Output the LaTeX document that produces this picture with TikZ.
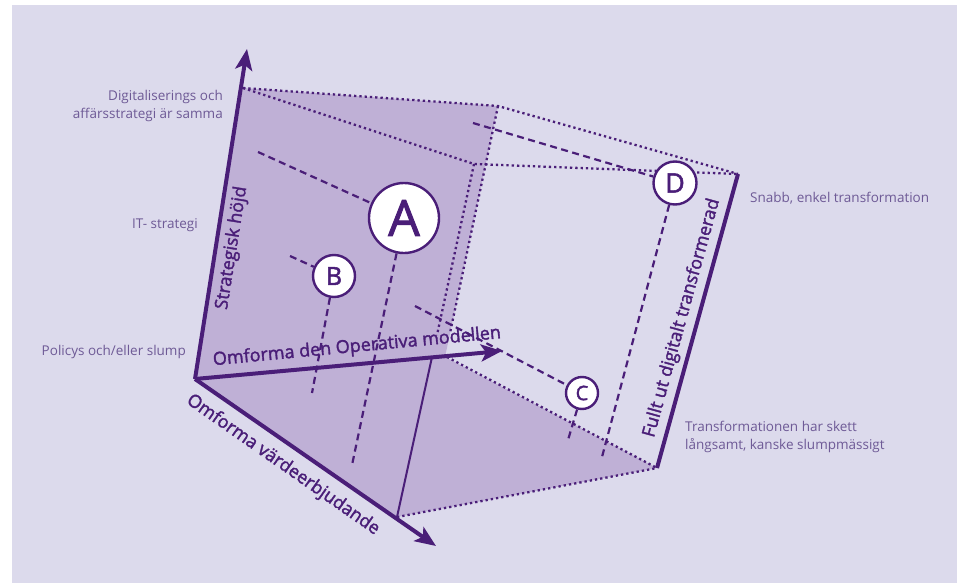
\documentclass[tikz,border=0pt]{standalone}
\usepackage{fontspec}
\setmainfont{Open Sans}
\newfontfamily\boldish[FakeBold=1.8]{Open Sans}
\usetikzlibrary{arrows.meta}
\definecolor{bglav}{RGB}{220,218,236}
\definecolor{facepurple}{RGB}{191,176,214}
\definecolor{darkpurple}{RGB}{74,30,120}
\definecolor{labelgray}{RGB}{110,90,150}
\tikzset{
  dotline/.style={draw=darkpurple, line width=2.3pt, dash pattern=on 2.3pt off 3pt},
  dashline/.style={draw=darkpurple, line width=2.2pt, dash pattern=on 7pt off 4.5pt},
  axisline/.style={draw=darkpurple, line width=4pt, -{Stealth[length=21pt,width=17pt,inset=5pt]}},
  thickline/.style={draw=darkpurple, line width=4pt},
  thinline/.style={draw=darkpurple, line width=2pt},
  letterbox/.style={circle, draw=darkpurple, line width=2.4pt, fill=white, text=darkpurple, inner sep=0pt},
  axislabel/.style={text=darkpurple, font=\boldish\fontsize{18}{20}\selectfont, inner sep=0pt},
  sidelabel/.style={text=labelgray, font=\fontsize{13.5}{18}\selectfont, inner sep=0pt}
}
\begin{document}
\begin{tikzpicture}[x=1pt,y=-1pt]
\useasboundingbox (0,0) rectangle (957,583);
\fill[white] (0,0) rectangle (957,583);
\fill[bglav] (12,5) rectangle (957,583);
% corners
\coordinate (O) at (195,379);
\coordinate (TL) at (243,88);
\coordinate (TR) at (498,106);
\coordinate (M1) at (474,164);
\coordinate (RC) at (738,174);
\coordinate (L1a) at (445,357);
\coordinate (L1e) at (450,333);
\coordinate (L2e) at (437,335);
\coordinate (L2b) at (432,357);
\coordinate (BR) at (657,468);
\coordinate (V) at (397,517);
\coordinate (L1b) at (447,357);
% shaded faces
\fill[facepurple] (O) -- (TL) -- (TR) -- (L1a) -- (BR) -- (V) -- cycle;
% dotted edges
\draw[dotline] (TL) -- (TR) -- (RC);
\draw[dotline] (TL) -- (M1) -- (RC);
\draw[dotline] (TR) -- (L1e);
\draw[dotline] (M1) -- (L2e);
\draw[dotline] (L1b) -- (BR);
\draw[dotline] (V) -- (BR);
\draw[thinline] (L2b) -- (V);
\draw[thickline] (RC) -- (BR);
% letter circles
\node[letterbox, minimum size=70pt, font=\boldish\fontsize{50}{50}\selectfont] (A) at (404,218) {A};
\node[letterbox, minimum size=42pt, font=\boldish\fontsize{25}{25}\selectfont] (B) at (334,276) {B};
\node[letterbox, minimum size=32pt, font=\boldish\fontsize{20}{20}\selectfont] (C) at (582,393) {C};
\node[letterbox, minimum size=43pt, font=\boldish\fontsize{27}{27}\selectfont] (D) at (675,183) {D};
% dashed leaders
\coordinate (a1) at (258,152);
\coordinate (a2) at (352,465);
\coordinate (b1) at (290,256);
\coordinate (b2) at (312,393);
\coordinate (c1) at (415,306);
\coordinate (c2) at (568,440);
\coordinate (d1) at (473,123);
\coordinate (d2) at (602,457);
\draw[dashline] (a1) -- (A);
\draw[dashline] (A) -- (a2);
\draw[dashline] (b1) -- (B);
\draw[dashline] (B) -- (b2);
\draw[dashline] (c1) -- (C);
\draw[dashline] (C) -- (c2);
\draw[dashline] (d1) -- (D);
\draw[dashline] (D) -- (d2);
% axes
\coordinate (tipH) at (247,49);
\coordinate (tipO) at (502,351);
\coordinate (tipV) at (436,546);
\draw[axisline] (O) -- (tipH);
\draw[axisline] (O) -- (tipO);
\draw[axisline] (O) -- (tipV);
% axis labels
\node[axislabel, rotate=81] (lh) at (232,248) {Strategisk höjd};
\node[axislabel, rotate=5.4] (lo) at (357,347) {Omforma den Operativa modellen};
\node[axislabel, rotate=-35] (lv) at (283,465) {Omforma värdeerbjudande};
\node[axislabel, rotate=74.6] (lr) at (682,318) {Fullt ut digitalt transformerad};
% side labels
\node[sidelabel, align=right, anchor=east] (s1) at (223,106) {Digitaliserings och\\affärsstrategi är samma};
\node[sidelabel, anchor=east] (s2) at (198,225) {IT- strategi};
\node[sidelabel, anchor=east] (s3) at (186,352) {Policys och/eller slump};
\node[sidelabel, anchor=west] (s4) at (750,198) {Snabb, enkel transformation};
\node[sidelabel, align=left, anchor=west] (s5) at (685,437) {Transformationen har skett\\långsamt, kanske slumpmässigt};
\end{tikzpicture}
\end{document}
